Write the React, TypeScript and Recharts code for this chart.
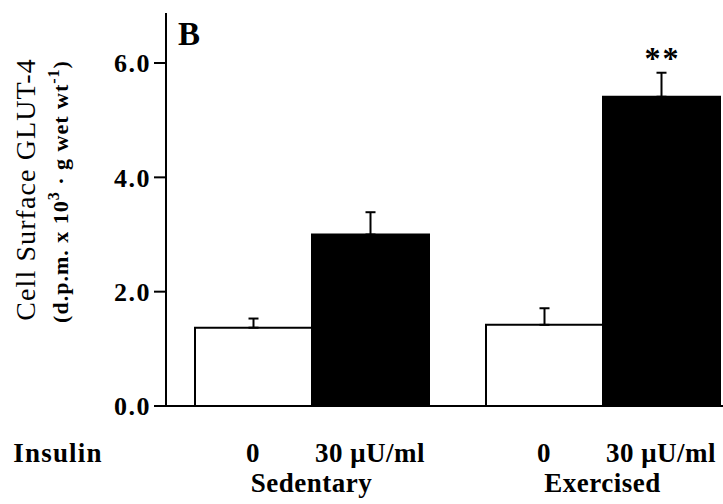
import React from 'react';
import { BarChart, Bar, XAxis, YAxis, ErrorBar, LabelList } from 'recharts';

const groups = ['Sedentary', 'Exercised'];
const doseLabels = ['0', '30 \u03bcU/ml'];
const basalValues = [1.37, 1.42];
const basalErrors = [0.16, 0.29];
const insulinValues = [3.0, 5.41];
const insulinErrors = [0.39, 0.42];
const significance = ['', '**'];
const yTicks = [0, 2, 4, 6];

const data = groups.map((g, i) => ({
  group: g,
  basal: basalValues[i],
  basalErr: [0, basalErrors[i]],
  insulin: insulinValues[i],
  insulinErr: [0, insulinErrors[i]],
  sig: significance[i],
}));

const FONT = 'Liberation Serif';
const BAR = 117;

const XTick = (props: any) => {
  const { x, y, payload } = props;
  const common = { textAnchor: 'middle' as const, fontFamily: FONT, fontSize: 27, fontWeight: 'bold', letterSpacing: 0.5, fill: '#000' };
  return (
    <g>
      <text x={x - BAR / 2} y={y + 56} {...common}>{doseLabels[0]}</text>
      <text x={x + BAR / 2} y={y + 56} {...common}>{doseLabels[1]}</text>
      <text x={x} y={y + 86} {...common}>{payload.value}</text>
    </g>
  );
};

const YLabel = (props: any) => {
  const vb = props.viewBox || { x: 0, y: 13, width: 166, height: 393 };
  const cy = vb.y + vb.height / 2 - 20;
  const x1 = vb.x + 35;
  const x2 = vb.x + 68;
  return (
    <g>
      <text transform={`translate(${x1},${cy}) rotate(-90)`} textAnchor="middle" fontFamily={FONT} fontSize={28} letterSpacing={1.1} fill="#000">
        Cell Surface GLUT-4
      </text>
      <text transform={`translate(${x2},${cy + 2}) rotate(-90)`} textAnchor="middle" fontFamily={FONT} fontSize={22} fontWeight="bold" letterSpacing={1} fill="#000">
        (d.p.m. x 10<tspan dy={-9} fontSize={16}>3</tspan>
        <tspan dy={9}> {'\u00b7'} g wet wt</tspan>
        <tspan dy={-9} fontSize={16}>-1</tspan>
        <tspan dy={9}>)</tspan>
      </text>
      <text x={vb.x + vb.width + 23} y={vb.y + 32} textAnchor="middle" fontFamily={FONT} fontSize={33} fontWeight="bold" fill="#000">
        B
      </text>
    </g>
  );
};

const XLabel = (props: any) => {
  const vb = props.viewBox || { x: 166, y: 406, width: 582, height: 98 };
  return (
    <text x={vb.x - 108} y={vb.y + 56} textAnchor="middle" fontFamily={FONT} fontSize={27} fontWeight="bold" letterSpacing={1.2} fill="#000">
      Insulin
    </text>
  );
};

const SigLabel = (props: any) => {
  const { x, y, width, value } = props;
  if (!value) return null;
  return (
    <text x={x + width / 2 + 1} y={y - 28} textAnchor="middle" fontFamily={FONT} fontSize={32} fontWeight="bold" letterSpacing={2} fill="#000">
      {value}
    </text>
  );
};

export default function App() {
  return (
    <div style={{ position: 'absolute', left: 0, top: 0, width: 723, height: 504, overflow: 'hidden', background: '#fff' }}>
      <BarChart width={760} height={504} data={data} margin={{ top: 13, right: 12, left: 0, bottom: 0 }} barGap={0} barSize={BAR}>
        <XAxis
          dataKey="group"
          height={98}
          tickLine={false}
          tickSize={0}
          tickMargin={0}
          axisLine={{ stroke: '#000', strokeWidth: 2 }}
          tick={<XTick />}
          label={<XLabel />}
        />
        <YAxis
          width={166}
          domain={[0, 6.875]}
          ticks={yTicks}
          allowDataOverflow
          tickSize={12}
          tickMargin={3}
          tickLine={{ stroke: '#000', strokeWidth: 2 }}
          axisLine={{ stroke: '#000', strokeWidth: 2 }}
          tickFormatter={(v: number) => v.toFixed(1)}
          tick={{ fill: '#000', fontFamily: FONT, fontSize: 26, fontWeight: 'bold', letterSpacing: 1.5 }}
          label={<YLabel />}
        />
        <Bar dataKey="basal" fill="#fff" stroke="#000" strokeWidth={2} isAnimationActive={false}>
          <ErrorBar dataKey="basalErr" width={5} stroke="#000" strokeWidth={2} isAnimationActive={false} />
        </Bar>
        <Bar dataKey="insulin" fill="#000" stroke="#000" strokeWidth={2} isAnimationActive={false}>
          <ErrorBar dataKey="insulinErr" width={5} stroke="#000" strokeWidth={2} isAnimationActive={false} />
          <LabelList dataKey="sig" content={<SigLabel />} />
        </Bar>
      </BarChart>
    </div>
  );
}
